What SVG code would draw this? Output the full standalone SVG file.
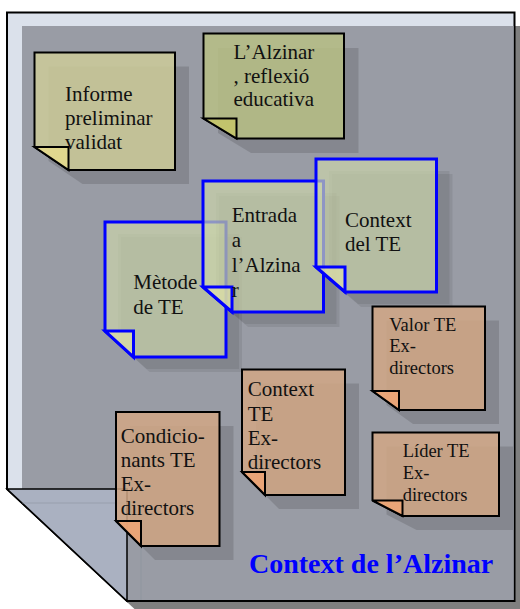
<svg xmlns="http://www.w3.org/2000/svg" width="520" height="609" viewBox="0 0 520 609">
<style>
.pshadow{fill:#7f7f7f}
.page{fill:#dbe1eb;stroke:#000;stroke-width:2}
.inner{fill:#999ca5}
.pfold{fill:#aab1c1;stroke:#000;stroke-width:1.5;stroke-linejoin:miter}
.faint{fill:none;stroke:#8a909c;stroke-width:1;stroke-opacity:.5}
.sh{fill:#000;fill-opacity:.13;stroke:none}
.sh2{fill:#000;fill-opacity:.075;stroke:none}
.n-olive{fill:#cdcb99;fill-opacity:.85;stroke:#000;stroke-width:2}
.f-olive{fill:#e5db8c;fill-opacity:.85;stroke:#000;stroke-width:2}
.n-green{fill:#b7c085;fill-opacity:.85;stroke:#000;stroke-width:2}
.f-green{fill:#c6c667;fill-opacity:.85;stroke:#000;stroke-width:2}
.n-orange{fill:#d1a785;fill-opacity:.85;stroke:#000;stroke-width:2}
.f-orange{fill:#efa574;fill-opacity:.85;stroke:#000;stroke-width:2}
.n-blue{fill:#cbd4ab;fill-opacity:.7;stroke:#0000ff;stroke-width:3}
.f-blue{fill:#dee0a8;fill-opacity:.7;stroke:#0000ff;stroke-width:3}
text{font-family:"Liberation Serif","Times New Roman",serif;fill:#111}
.t21{font-size:21px}
.t18{font-size:18.5px}
.title{font-size:28px;font-weight:bold;fill:#0000ff}
</style>
<defs>
<polygon id="s-informe" points="34.5,52.5 175,52.5 175,170 68.5,170 34.5,147"/>
<polygon id="f-informe" points="34.5,147 68.5,147 68.5,170"/>
<polygon id="s-alz" points="203.5,33.5 344,33.5 344,138.5 236.5,138.5 203.5,118.5"/>
<polygon id="f-alz" points="203.5,118.5 236.5,118.5 236.5,138.5"/>
<polygon id="s-metode" points="105,222 226,222 226,357 133.5,357 105,331"/>
<polygon id="f-metode" points="105,331 133.5,331 133.5,357"/>
<polygon id="s-entrada" points="203,181 323.5,181 323.5,312 232,312 203,287"/>
<polygon id="f-entrada" points="203,287 232,287 232,312"/>
<polygon id="s-ctxte" points="316,159 436.5,159 436.5,292 345,292 316,267"/>
<polygon id="f-ctxte" points="316,267 345,267 345,292"/>
<polygon id="s-valor" points="372.5,306.5 485,306.5 485,410 399,410 372.5,391"/>
<polygon id="f-valor" points="372.5,391 399,391 399,410"/>
<polygon id="s-ctxex" points="242,369.5 345,369.5 345,495 265,495 242,472"/>
<polygon id="f-ctxex" points="242,472 265,472 265,495"/>
<polygon id="s-lider" points="372.5,432.5 499,432.5 499,516 402.5,516 372.5,500.5"/>
<polygon id="f-lider" points="372.5,500.5 402.5,500.5 402.5,516"/>
<polygon id="s-cond" points="116,412 219.5,412 219.5,546 141,546 116,521"/>
<polygon id="f-cond" points="116,521 141,521 141,546"/>
</defs>

<g id="page">
<polygon class="pshadow" points="22,26 529,26 529,616 142,616 22,504"/>
<polygon class="page" points="7,12.5 514.5,12.5 514.5,601 127,601 7,489"/>
<polygon class="inner" points="22,26 513.5,26 513.5,600 127,600 127,489 22,489"/>
<polygon class="pfold" points="7,489 127,489 127,601"/>
<polyline class="faint" points="22,503 141,503 141,600"/>
</g>

<g id="connectors"/>

<g id="note-informe">
<use href="#s-informe" class="sh" transform="translate(14,14)"/>
<use href="#s-informe" class="n-olive"/>
<use href="#f-informe" class="f-olive"/>
<text class="t21"><tspan x="65" y="100.7">Informe</tspan><tspan x="65" y="125">preliminar</tspan><tspan x="65" y="148.5">validat</tspan></text>
</g>

<g id="note-alzinar">
<use href="#s-alz" class="sh" transform="translate(14.5,14.5)"/>
<use href="#s-alz" class="n-green"/>
<use href="#f-alz" class="f-green"/>
<text class="t21"><tspan x="233.5" y="59.3">L’Alzinar</tspan><tspan x="233.5" y="82.8">, reflexió</tspan><tspan x="233.5" y="106.3">educativa</tspan></text>
</g>

<g id="note-metode">
<use href="#s-metode" class="sh2" transform="translate(13,12)"/>
<use href="#s-metode" class="sh2" transform="translate(16,15)"/>
<use href="#s-metode" class="n-blue"/>
<use href="#f-metode" class="f-blue"/>
<text class="t21"><tspan x="133.3" y="289.3">Mètode</tspan><tspan x="133.3" y="314">de TE</tspan></text>
</g>

<g id="note-entrada">
<use href="#s-entrada" class="sh2" transform="translate(13,12)"/>
<use href="#s-entrada" class="sh2" transform="translate(16,15)"/>
<use href="#s-entrada" class="n-blue"/>
<use href="#f-entrada" class="f-blue"/>
<text class="t21"><tspan x="231.7" y="222.3">Entrada</tspan><tspan x="231.7" y="247.3">a</tspan><tspan x="231.7" y="271.8">l’Alzina</tspan><tspan x="231.7" y="296.5">r</tspan></text>
</g>

<g id="note-context-te">
<use href="#s-ctxte" class="sh2" transform="translate(13,12)"/>
<use href="#s-ctxte" class="sh2" transform="translate(16,15)"/>
<use href="#s-ctxte" class="n-blue"/>
<use href="#f-ctxte" class="f-blue"/>
<text class="t21"><tspan x="345" y="226.7">Context</tspan><tspan x="345" y="251">del TE</tspan></text>
</g>

<g id="note-valor">
<use href="#s-valor" class="sh" transform="translate(14,14)"/>
<use href="#s-valor" class="n-orange"/>
<use href="#f-valor" class="f-orange"/>
<text class="t18"><tspan x="389.3" y="330.7">Valor TE</tspan><tspan x="389.3" y="352.3">Ex-</tspan><tspan x="389.3" y="374">directors</tspan></text>
</g>

<g id="note-context-ex">
<use href="#s-ctxex" class="sh" transform="translate(14,14)"/>
<use href="#s-ctxex" class="n-orange"/>
<use href="#f-ctxex" class="f-orange"/>
<text class="t21"><tspan x="247.7" y="396">Context</tspan><tspan x="247.7" y="420.5">TE</tspan><tspan x="247.7" y="444.5">Ex-</tspan><tspan x="247.7" y="469">directors</tspan></text>
</g>

<g id="note-lider">
<use href="#s-lider" class="sh" transform="translate(14,14)"/>
<use href="#s-lider" class="n-orange"/>
<use href="#f-lider" class="f-orange"/>
<text class="t18"><tspan x="402.7" y="457.3">Líder TE</tspan><tspan x="402.7" y="479">Ex-</tspan><tspan x="402.7" y="500.5">directors</tspan></text>
</g>

<g id="note-condicionants">
<use href="#s-cond" class="sh" transform="translate(14,14)"/>
<use href="#s-cond" class="n-orange"/>
<use href="#f-cond" class="f-orange"/>
<text class="t21"><tspan x="120.7" y="442.7">Condicio-</tspan><tspan x="120.7" y="466.7">nants TE</tspan><tspan x="120.7" y="491">Ex-</tspan><tspan x="120.7" y="515">directors</tspan></text>
</g>

<g id="title">
<text class="title" x="249" y="572.7">Context de l’Alzinar</text>
</g>
</svg>
